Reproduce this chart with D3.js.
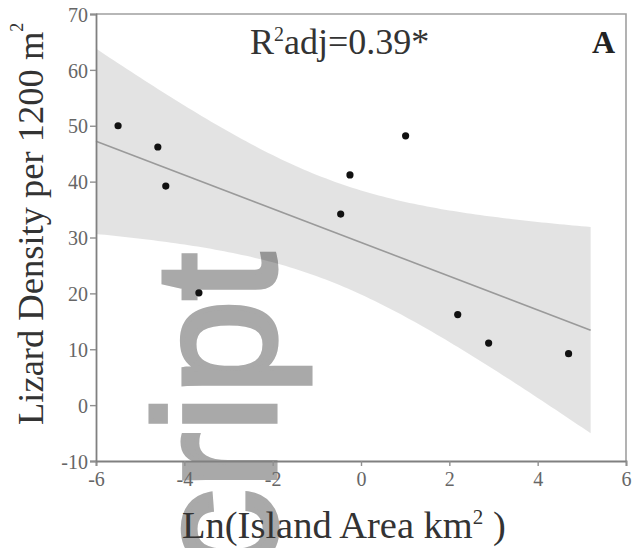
<!DOCTYPE html>
<html lang="en">
<head>
  <meta charset="UTF-8">
  <title>Lizard Density vs Island Area</title>
  <style>
    html, body {
      background: #fff;
      margin: 0px;
      overflow: hidden;
    }
    #container {
      width: 634px;
      height: 548px;
    }
  </style>
</head>
<body>
<div id="container"></div>

<script src="https://cdnjs.cloudflare.com/ajax/libs/d3/7.8.5/d3.min.js"></script>
<script>

  // data
  var lnArea  = [-5.5, -4.6, -4.42, -3.67, -0.46, -0.25, 1.01, 2.19, 2.89, 4.7];
  var density = [50, 46.2, 39.2, 20.1, 34.2, 41.2, 48.2, 16.2, 11.1, 9.2];

  var xTicks = [-6, -4, -2, 0, 2, 4, 6];
  var yTicks = [-10, 0, 10, 20, 30, 40, 50, 60, 70];

  var fitRange = [-6, 5.2];   // span of the fitted line / band
  var tCrit = 2.306;          // t(0.975, df = 8)

  var width = 634, height = 548;
  var margin = {top: 14, right: 8, bottom: 87, left: 96};
  var serif = '"Liberation Serif", "Times New Roman", serif';

  var svg = d3.select('#container').append('svg')
    .attr('width', width)
    .attr('height', height);

  svg.append('rect')
    .attr('width', width)
    .attr('height', height)
    .attr('fill', '#fff');

  var x = d3.scaleLinear()
    .domain([-6, 6])
    .range([margin.left, width - margin.right]);

  var y = d3.scaleLinear()
    .domain([-10, 70])
    .range([height - margin.bottom, margin.top]);

  // watermark, sits under the chart
  svg.append('text')
    .attr('transform', 'translate(275,253) rotate(-90)')
    .attr('text-anchor', 'end')
    .style('font-family', '"Liberation Sans", Arial, sans-serif')
    .style('font-size', '170px')
    .style('fill', '#a9a9a9')
    .style('stroke', '#a9a9a9')
    .style('stroke-width', 5)
    .text('cript');

  // linear fit + 95% confidence band
  var n = lnArea.length;
  var mx = d3.mean(lnArea), my = d3.mean(density);
  var sxx = d3.sum(lnArea, d => (d - mx) * (d - mx));
  var sxy = d3.sum(lnArea, (d, i) => (d - mx) * (density[i] - my));
  var slope = sxy / sxx;
  var icpt = my - slope * mx;
  var sse = d3.sum(lnArea, (d, i) => Math.pow(density[i] - (icpt + slope * d), 2));
  var s = Math.sqrt(sse / (n - 2));

  var band = d3.range(fitRange[0], fitRange[1] + 0.001, 0.1).map(function(v) {
    var fit = icpt + slope * v;
    var se = s * Math.sqrt(1 / n + (v - mx) * (v - mx) / sxx);
    return {x: v, lo: fit - tCrit * se, hi: fit + tCrit * se};
  });

  svg.append('path')
    .datum(band)
    .attr('d', d3.area()
      .x(d => x(d.x))
      .y0(d => y(d.lo))
      .y1(d => y(d.hi)))
    .style('fill', '#000')
    .style('fill-opacity', 0.11);

  svg.append('line')
    .attr('x1', x(fitRange[0]))
    .attr('y1', y(icpt + slope * fitRange[0]))
    .attr('x2', x(fitRange[1]))
    .attr('y2', y(icpt + slope * fitRange[1]))
    .style('stroke', '#9a9a9a')
    .style('stroke-width', 1.6);

  // points
  svg.selectAll('circle.pt')
    .data(lnArea)
    .enter()
    .append('circle')
    .classed('pt', true)
    .attr('cx', d => x(d))
    .attr('cy', (d, i) => y(density[i]))
    .attr('r', 3.6)
    .style('fill', '#111');

  // frame (top + right)
  svg.append('path')
    .attr('d', 'M' + x(-6) + ',' + y(70) + 'H' + x(6) + 'V' + y(-10))
    .style('fill', 'none')
    .style('stroke', '#a0a0a0')
    .style('stroke-width', 1.6);

  // axes
  var xAxis = svg.append('g')
    .attr('transform', 'translate(0,' + y(-10) + ')')
    .call(d3.axisBottom(x).tickValues(xTicks).tickSize(5).tickPadding(6).tickFormat(d => String(d)));

  var yAxis = svg.append('g')
    .attr('transform', 'translate(' + x(-6) + ',0)')
    .call(d3.axisLeft(y).tickValues(yTicks).tickSize(6).tickPadding(2).tickFormat(d => String(d)));

  [xAxis, yAxis].forEach(function(g) {
    g.attr('font-family', null);
    g.select('.domain').style('stroke', '#808080').style('stroke-width', 1.8);
    g.selectAll('.tick line').style('stroke', '#909090').style('stroke-width', 1.4);
    g.selectAll('.tick text')
      .style('font-family', serif)
      .style('font-size', '20px')
      .style('fill', '#666');
  });
  yAxis.selectAll('.tick text').attr('dy', '0.36em');

  // R2 annotation
  var r2 = svg.append('text')
    .attr('x', 250)
    .attr('y', 54)
    .style('font-family', serif)
    .style('font-size', '36px')
    .style('fill', '#333');
  r2.append('tspan').text('R');
  r2.append('tspan').attr('dy', -13).style('font-size', '20px').text('2');
  r2.append('tspan').attr('dy', 13).text('adj=0.39*');

  // panel letter
  svg.append('text')
    .attr('x', 615)
    .attr('y', 53)
    .attr('text-anchor', 'end')
    .style('font-family', serif)
    .style('font-weight', 'bold')
    .style('font-size', '32px')
    .style('fill', '#222')
    .text('A');

  // x title
  var xt = svg.append('text')
    .attr('x', 182)
    .attr('y', 538)
    .style('font-family', serif)
    .style('font-size', '38.5px')
    .style('fill', '#333');
  xt.append('tspan').text('Ln(Island Area km');
  xt.append('tspan').attr('dy', -14).style('font-size', '21px').text('2');
  xt.append('tspan').attr('dy', 14).text(' )');

  // y title
  var yt = svg.append('text')
    .attr('transform', 'translate(43,425) rotate(-90)')
    .style('font-family', serif)
    .style('font-size', '36.5px')
    .style('fill', '#333');
  yt.append('tspan').text('Lizard Density per 1200 m');
  yt.append('tspan').attr('dy', -20).style('font-size', '18px').text('2');

</script>
</body>
</html>
